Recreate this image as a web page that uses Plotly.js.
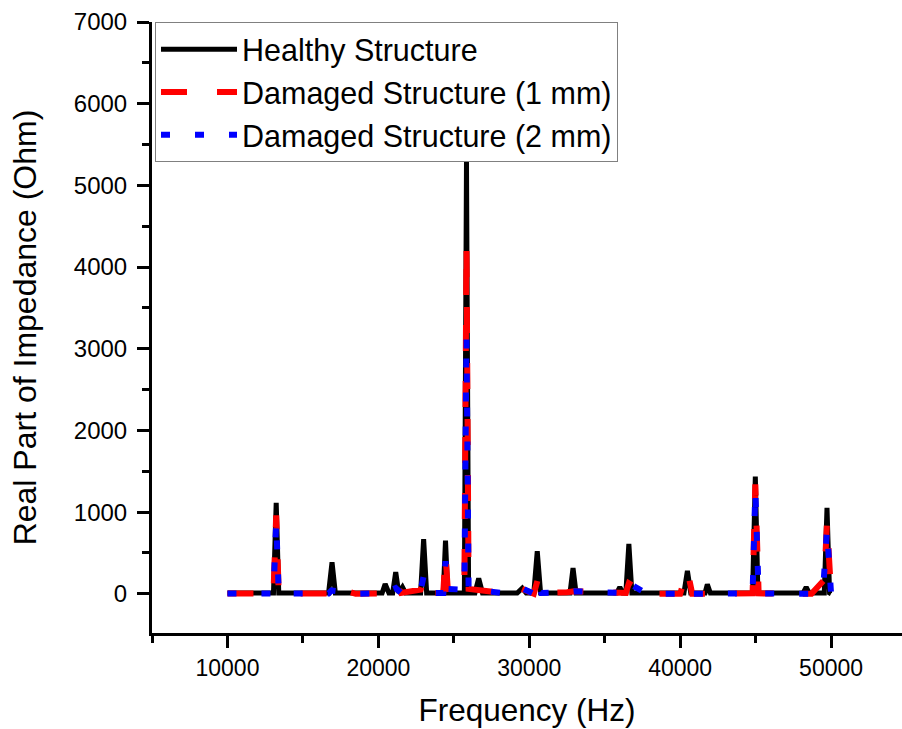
<!DOCTYPE html>
<html>
<head>
<meta charset="utf-8">
<script src="https://cdn.plot.ly/plotly-3.0.1.min.js"></script>
<style>html,body{margin:0;padding:0;background:#fff;}#chart{width:902px;height:729px;}</style>
</head>
<body>
<div id="chart"></div>
<script>
// Healthy structure
var freqH = [10000, 13050, 13230, 13400, 16700, 16930, 17150, 20250, 20450, 20700, 20950, 21150, 21350, 21600, 21800, 22800, 23000, 23200, 24300, 24450, 24600, 25700, 25840, 25980, 26400, 26650, 26900, 29200, 29540, 29800, 30300, 30530, 30750, 32700, 32900, 33100, 35800, 36000, 36200, 36400, 36600, 36800, 40250, 40480, 40700, 41650, 41800, 42000, 44800, 44980, 45150, 48150, 48350, 48550, 49550, 49730, 49900, 50000];
var realH = [10, 10, 1114, 10, 10, 387, 10, 10, 120, 10, 10, 264, 10, 80, 10, 10, 670, 10, 10, 650, 10, 10, 5290, 10, 10, 190, 10, 10, 70, 10, 10, 522, 10, 10, 315, 10, 10, 80, 10, 10, 610, 10, 10, 280, 10, 10, 115, 10, 10, 1434, 10, 10, 80, 10, 10, 1052, 10, 0];
// Damaged structure (1 mm)
var freqR = [10000, 13050, 13230, 13400, 16700, 16880, 18500, 20300, 21150, 21500, 22800, 23050, 23500, 24300, 24450, 24600, 25700, 25840, 25980, 28200, 29500, 30300, 30550, 30800, 32500, 33000, 36400, 36600, 37800, 40000, 40480, 40800, 44800, 44980, 45200, 48700, 49550, 49730, 50000];
var realR = [5, 5, 960, 5, 5, 90, 0, 5, 130, 10, 50, 190, 10, 10, 480, 60, 50, 4270, 60, 10, 60, 0, 165, 10, 20, 30, 10, 128, 0, 0, 288, 0, 5, 1340, 5, 0, 170, 880, 0];
// Damaged structure (2 mm)
var freqB = [10000, 13050, 13230, 13400, 16700, 16900, 18500, 20300, 21150, 21500, 22800, 23000, 23400, 24300, 24450, 24600, 25700, 25840, 25980, 28200, 29500, 30300, 30500, 30800, 32500, 33000, 36400, 36600, 37800, 40000, 40480, 40800, 44800, 44980, 45200, 48700, 49500, 49730, 50000];
var realB = [5, 5, 880, 5, 5, 40, 0, 5, 70, 10, 40, 215, 10, 10, 400, 60, 50, 3150, 60, 10, 70, 0, 150, 10, 20, 30, 10, 128, 0, 0, 80, 0, 5, 1270, 5, 0, 125, 790, 0];

var seriesNames = ['Healthy Structure', 'Damaged Structure (1 mm)', 'Damaged Structure (2 mm)'];
var xTicks = [10000, 20000, 30000, 40000, 50000];
var yTicks = [0, 1000, 2000, 3000, 4000, 5000, 6000, 7000];

var FONT = 'Liberation Sans, Arial, sans-serif';

var traces = [
  {x: freqH, y: realH, name: seriesNames[0], type: 'scatter', mode: 'lines',
   line: {color: '#000000', width: 5}},
  {x: freqR, y: realR, name: seriesNames[1], type: 'scatter', mode: 'lines',
   line: {color: '#ff0000', width: 6, dash: '26px,30px'}},
  {x: freqB, y: realB, name: seriesNames[2], type: 'scatter', mode: 'lines',
   line: {color: '#0000ff', width: 6, dash: '9px,25px'}}
];

var layout = {
  width: 902, height: 729,
  margin: {l: 152, r: 0, t: 22, b: 96, pad: 0},
  paper_bgcolor: '#ffffff', plot_bgcolor: '#ffffff',
  font: {family: FONT, color: '#000000'},
  showlegend: true,
  legend: {x: 0.004, y: 1, xanchor: 'left', yanchor: 'top',
    bordercolor: '#808080', borderwidth: 1, bgcolor: '#ffffff',
    font: {family: FONT, size: 30.5, color: '#000000'}, itemwidth: 76,
    tracegroupgap: 0},
  xaxis: {
    range: [5000, 54700], tickvals: xTicks, ticktext: xTicks.map(String),
    showgrid: false, zeroline: false, showline: true, linewidth: 3, linecolor: '#000',
    ticks: 'outside', ticklen: 12, tickwidth: 3, tickcolor: '#000',
    minor: {dtick: 5000, tick0: 5000, ticks: 'outside', ticklen: 7, tickwidth: 3, tickcolor: '#000', showgrid: false},
    tickfont: {family: FONT, size: 23, color: '#000'},
    title: {text: 'Frequency (Hz)', font: {family: FONT, size: 31.5, color: '#000'}, standoff: 20}
  },
  yaxis: {
    range: [-480, 7000], tickvals: yTicks, ticktext: yTicks.map(String),
    showgrid: false, zeroline: false, showline: true, linewidth: 3, linecolor: '#000',
    ticks: 'outside', ticklen: 12, tickwidth: 3, tickcolor: '#000',
    ticklabelstandoff: 5,
    minor: {dtick: 500, tick0: 0, ticks: 'outside', ticklen: 7, tickwidth: 3, tickcolor: '#000', showgrid: false},
    tickfont: {family: FONT, size: 24, color: '#000'},
    title: {text: 'Real Part of Impedance (Ohm)', font: {family: FONT, size: 32, color: '#000'}, standoff: 28}
  }
};

Plotly.newPlot('chart', traces, layout, {displayModeBar: false, staticPlot: true});
</script>
</body>
</html>
